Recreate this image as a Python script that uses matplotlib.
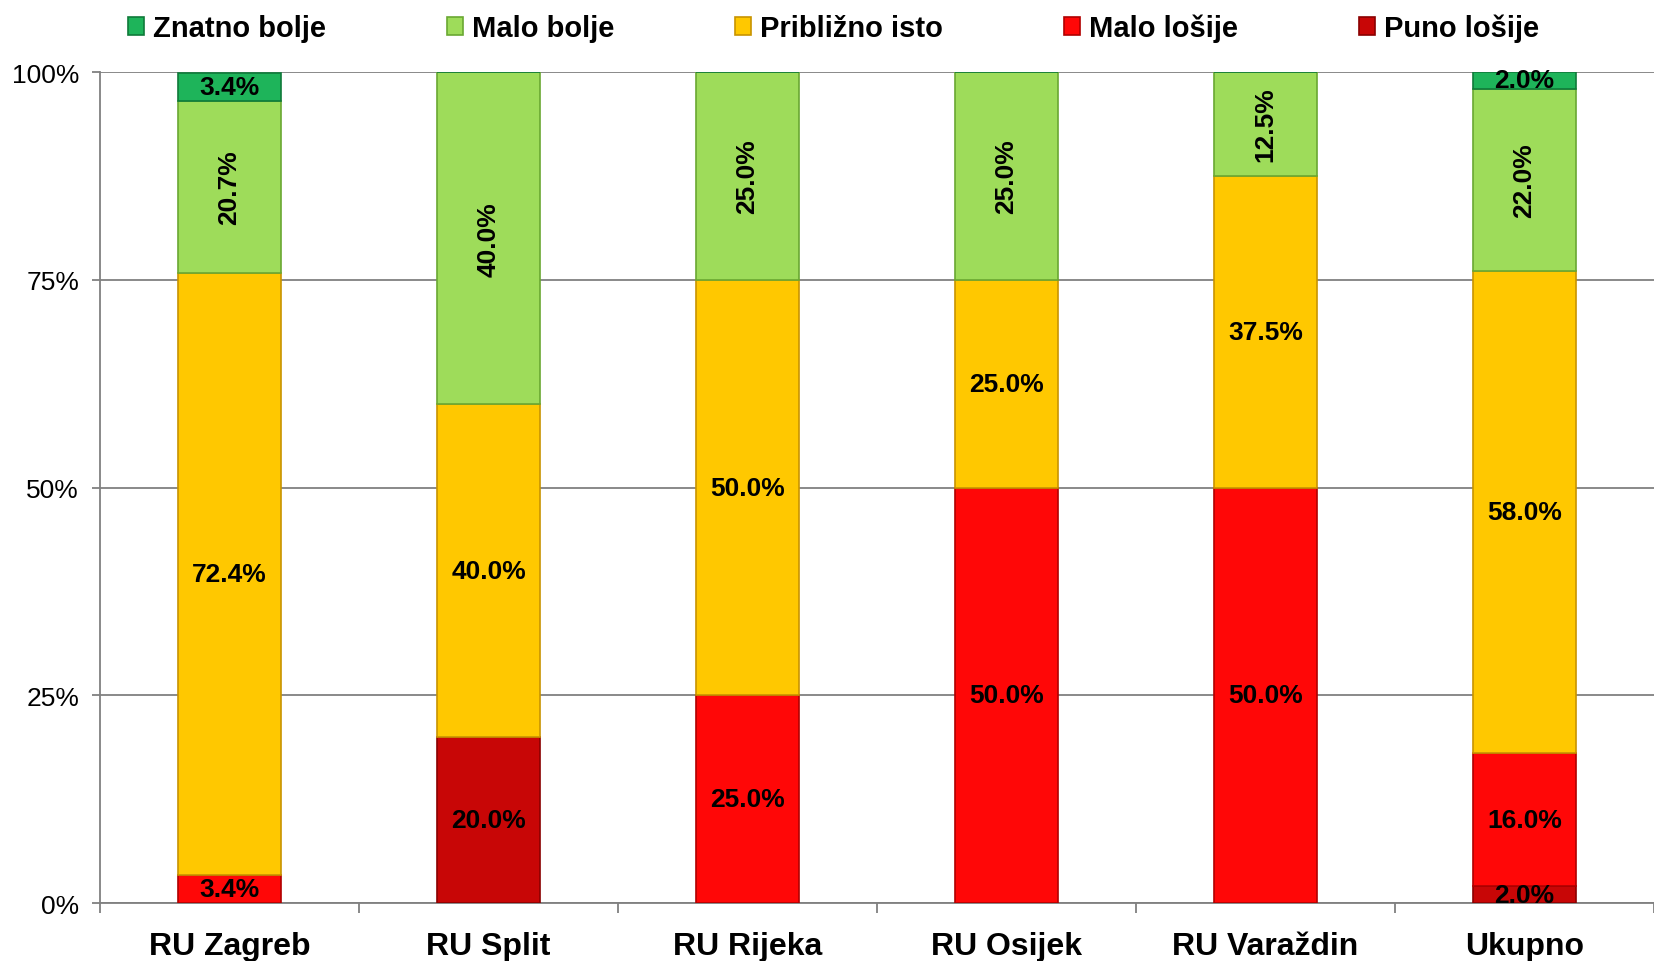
import matplotlib.pyplot as plt
import numpy as np
from matplotlib.ticker import FuncFormatter

plt.rcParams['font.family'] = ['Liberation Sans', 'DejaVu Sans']

regions = ['RU Zagreb', 'RU Split', 'RU Rijeka', 'RU Osijek', 'RU Varaždin', 'Ukupno']

# stacked bottom to top
puno_losije = [0, 20.0, 0, 0, 0, 2.0]
malo_losije = [3.4, 0, 25.0, 50.0, 50.0, 16.0]
priblizno_isto = [72.4, 40.0, 50.0, 25.0, 37.5, 58.0]
malo_bolje = [20.7, 40.0, 25.0, 25.0, 12.5, 22.0]
znatno_bolje = [3.4, 0, 0, 0, 0, 2.0]

series = [
    ('Puno lošije', puno_losije, '#c80606', '#8a0000'),
    ('Malo lošije', malo_losije, '#ff0707', '#b00000'),
    ('Približno isto', priblizno_isto, '#ffc800', '#c89400'),
    ('Malo bolje', malo_bolje, '#9edc5a', '#6aa832'),
    ('Znatno bolje', znatno_bolje, '#1eb45a', '#0f7a3a'),
]


def draw_chart():
    fig = plt.figure(figsize=(16.54, 9.62), dpi=100)
    ax = fig.add_axes([100 / 1654, 1 - 904 / 962, 1554 / 1654, (904 - 73) / 962])

    x = np.arange(len(regions))
    bottom = np.zeros(len(regions))
    handles = {}
    for name, vals, color, edge in series:
        vals = np.array(vals, dtype=float)
        bars = ax.bar(x, vals, width=0.4, bottom=bottom, color=color,
                      edgecolor=edge, linewidth=1.2, zorder=3, label=name)
        handles[name] = bars
        for xi, b, v in zip(x, bottom, vals):
            if v <= 0:
                continue
            rot = 90 if name == 'Malo bolje' else 0
            ax.text(xi, b + v / 2, f'{v:.1f}%', ha='center', va='center',
                    rotation=rot, fontsize=19, fontweight='bold', color='black',
                    zorder=5)
        bottom += vals

    ax.set_xlim(-0.5, len(regions) - 0.5)
    ax.set_ylim(0, 100)
    ax.set_yticks([0, 25, 50, 75, 100])
    ax.yaxis.set_major_formatter(FuncFormatter(lambda v, p: f'{v:.0f}%'))
    ax.grid(axis='y', color='#808080', linewidth=1.3, zorder=0)

    ax.set_xticks(x)
    ax.set_xticklabels(regions, fontsize=23, fontweight='bold')
    ax.set_xticks(np.arange(len(regions) + 1) - 0.5, minor=True)
    ax.tick_params(axis='x', which='major', length=0, pad=20)
    ax.tick_params(axis='x', which='minor', length=7, color='#808080', width=1.3)
    ax.tick_params(axis='y', labelsize=19, length=6, color='#808080', width=1.3, pad=9)

    for side in ['top', 'right']:
        ax.spines[side].set_visible(False)
    for side in ['left', 'bottom']:
        ax.spines[side].set_color('#808080')
        ax.spines[side].set_linewidth(1.3)

    order = ['Znatno bolje', 'Malo bolje', 'Približno isto', 'Malo lošije', 'Puno lošije']
    fig.legend([handles[n] for n in order], order, loc='upper center',
               bbox_to_anchor=(0.504, 1.012), ncol=5, frameon=False,
               prop={'size': 21, 'weight': 'bold'}, handlelength=0.55,
               handleheight=0.55, handletextpad=0.3, columnspacing=4.15)

    fig.savefig('out.png', dpi=100)


if __name__ == '__main__':
    draw_chart()
